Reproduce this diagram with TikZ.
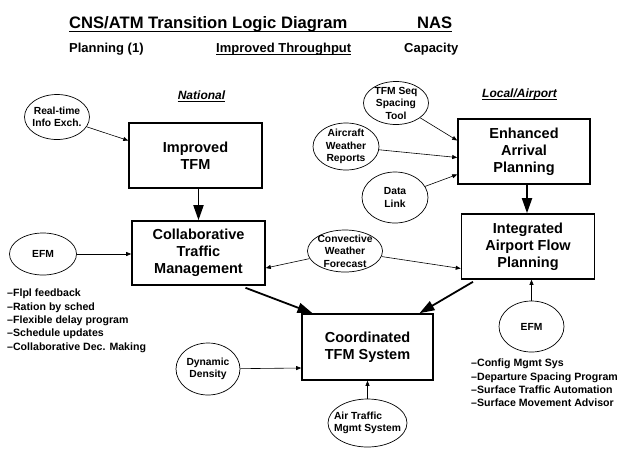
\documentclass[tikz,border=0pt]{standalone}
\usepackage{fontspec}
\setmainfont{Liberation Sans}
\usetikzlibrary{arrows.meta,shapes.geometric}

\begin{document}
\begin{tikzpicture}[x=1pt,y=-1pt,
	box/.style={draw, line width=1.6pt, inner sep=0pt, minimum width=133pt, minimum height=65pt, align=center, font=\fontsize{14.5}{17}\selectfont\bfseries},
	oval/.style={draw, ellipse, line width=0.7pt, inner sep=-14pt, align=center, font=\fontsize{10.3}{12.5}\selectfont\bfseries},
	head/.style={anchor=base west, inner sep=0pt, font=\fontsize{13}{15}\selectfont\bfseries},
	area/.style={anchor=base, inner sep=0pt, font=\fontsize{12}{14}\selectfont\bfseries\itshape},
	items/.style={anchor=north west, inner sep=0pt, align=left, font=\fontsize{10.6}{13.3}\selectfont\bfseries},
	feed/.style={-{Triangle[length=5pt,width=4pt]}, line width=0.6pt},
	flow/.style={-{Triangle[length=15pt,width=10pt]}, line width=1.8pt}]
	\useasboundingbox (0,0) rectangle (620,448);
	
	\node[head, font=\fontsize{16.6}{20}\selectfont\bfseries] (title) at (69,28) {CNS/ATM Transition Logic Diagram};
	\node[head, font=\fontsize{16.6}{20}\selectfont\bfseries] (nas) at (417,28) {NAS};
	\node[head] (plan) at (69,52) {Planning (1)};
	\node[head] (thru) at (216,52) {Improved Throughput};
	\node[head] (cap) at (404,52) {Capacity};
	\node[area] (nat) at (201.5,99) {National};
	\node[area] (loc) at (519.5,97.5) {Local/Airport};
	
	\draw[line width=1.2pt] ([yshift=-3.6pt]title.base west) -- ([yshift=-3.6pt]nas.base east);
	\draw[line width=0.9pt] ([yshift=-2.2pt]thru.base west) -- ([yshift=-2.2pt]thru.base east);
	\draw[line width=0.8pt] ([yshift=-2pt]nat.base west) -- ([yshift=-2pt]nat.base east);
	\draw[line width=0.8pt] ([yshift=-2pt]loc.base west) -- ([yshift=-2pt]loc.base east);
	
	\node[box] (tfm) at (195.5,155.5) {Improved\\TFM};
	\node[box, minimum height=64pt] (ctm) at (198.5,253) {Collaborative\\Traffic\\Management};
	\node[box, minimum width=132pt] (eap) at (524,151.5) {Enhanced\\Arrival\\Planning};
	\node[box] (iafp) at (528,246.5) {Integrated\\Airport Flow\\Planning};
	\node[box, minimum width=131pt, minimum height=66pt] (ctfm) at (367.5,347) {Coordinated\\TFM System};
	
	\node[oval, minimum width=65pt, minimum height=45pt] (rt) at (57,117) {Real-time\\Info Exch.};
	\node[oval, minimum width=67pt, minimum height=42pt] (efm1) at (43,254) {EFM};
	\node[oval, minimum width=75pt, minimum height=42pt] (cwf) at (345,251) {Convective\\Weather\\Forecast};
	\node[oval, minimum width=65pt, minimum height=43pt] (seq) at (396,103) {TFM Seq\\Spacing\\Tool};
	\node[oval, minimum width=66pt, minimum height=47pt] (awr) at (346,146.5) {Aircraft\\Weather\\Reports};
	\node[oval, minimum width=66pt, minimum height=51pt] (dl) at (395,197.5) {Data\\Link};
	\node[oval, minimum width=65pt, minimum height=51pt] (efm2) at (531.5,326.5) {EFM};
	\node[oval, minimum width=64pt, minimum height=52pt] (dd) at (208,369) {Dynamic\\Density};
	\node[oval, minimum width=79pt, minimum height=48pt, align=left] (atm) at (367.5,423) {Air Traffic\\Mgmt System};
	
	\node[items] (lst1) at (7,289) {–Flpl feedback\\–Ration by sched\\–Flexible delay program\\–Schedule updates\\–Collaborative Dec. Making};
	\node[items] (lst2) at (471,359) {–Config Mgmt Sys\\–Departure Spacing Program\\–Surface Traffic Automation\\–Surface Movement Advisor};
	
	\draw[feed] (rt) -- ([yshift=15pt]tfm.west);
	\draw[feed] (efm1.east) -- (efm1.east -| ctm.west);
	\draw[feed] (cwf) -- ([yshift=-15pt]ctm.east);
	\draw[feed] (cwf) -- ([yshift=-22pt]iafp.west);
	\draw[feed] (seq) -- ([yshift=11pt]eap.west);
	\draw[feed] (awr) -- ([yshift=-6pt]eap.west);
	\draw[feed] (dl) -- ([yshift=-23pt]eap.west);
	\draw[feed] (efm2.north) -- (efm2.north |- iafp.south);
	\draw[feed] (dd) -- ([yshift=-21pt]ctfm.west);
	\draw[feed] (atm.north) -- (atm.north |- ctfm.south);
	
	\draw[flow] (tfm.south -| ctm.north) -- (ctm.north);
	\draw[flow] (eap.south -| 527,0) -- (iafp.north -| 527,0);
	\draw[flow] ([xshift=47pt,yshift=-2pt]ctm.south) -- ([xshift=-55pt]ctfm.north);
	\draw[flow] ([xshift=-55pt,yshift=-2pt]iafp.south) -- ([xshift=52pt]ctfm.north);
\end{tikzpicture}
\end{document}
